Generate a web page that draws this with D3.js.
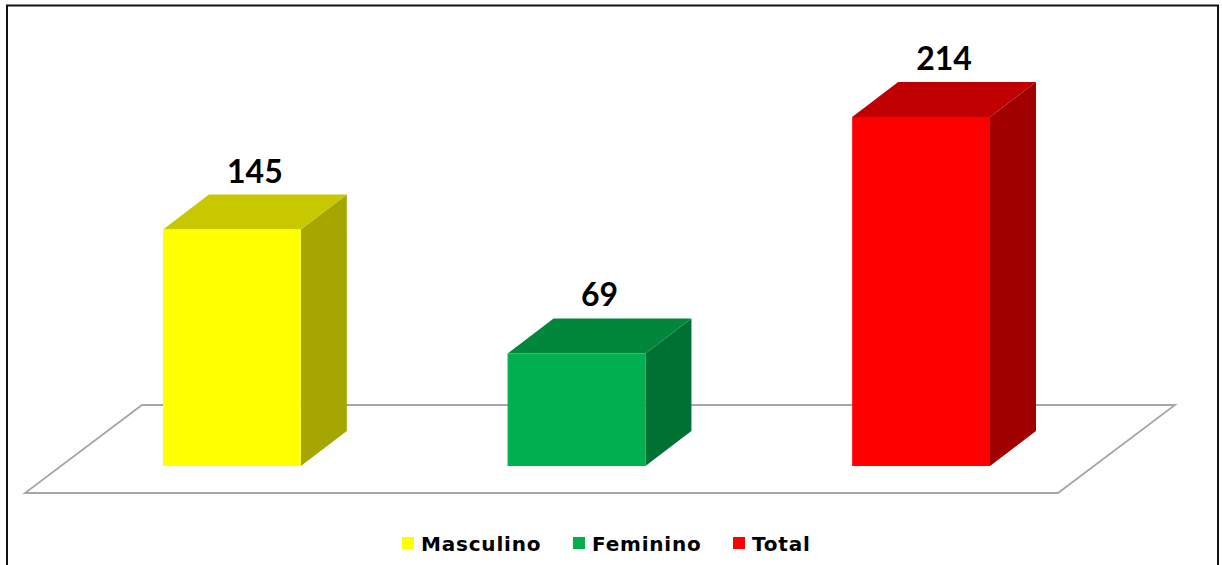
<!DOCTYPE html>
<html>
<head>
<meta charset="utf-8">
<script src="https://cdn.jsdelivr.net/npm/d3@7"></script>
<style>
  html, body { margin: 0; padding: 0; background: #fff; }
  svg { display: block; }
  text { font-family: Lato, "Open Sans", sans-serif; font-weight: 700; fill: #000; }
  .legend text { font-family: "DejaVu Sans", sans-serif; letter-spacing: 0.8px; }
</style>
</head>
<body>
<svg id="chart" width="1222" height="565"></svg>
<script>
// Data
const categories = ["Masculino", "Feminino", "Total"];
const values = [145, 69, 214];
const frontColors = ["#FFFF00", "#00B050", "#FF0000"];
const topColors = ["#C8C800", "#00873C", "#C00000"];
const sideColors = ["#A6A600", "#007033", "#A00000"];

const svg = d3.select("#chart");
const W = 1222, H = 565;

// Outer frame
svg.append("rect")
  .attr("x", 7).attr("y", 5.5)
  .attr("width", 1211).attr("height", H + 10)
  .attr("fill", "#fff")
  .attr("stroke", "#111").attr("stroke-width", 2);

// Scales
const baseY = 466;
const x = d3.scaleBand().domain(categories).range([163, 990]).paddingInner(0.6).paddingOuter(0);
const y = d3.scaleLinear().domain([0, 214]).range([baseY, 117]);

// 3D projection offsets
const barDx = 46, barDy = -35;     // bar depth
const floorDx = 117, floorDy = -88; // floor depth

// Floor (parallelogram)
const floorFrontY = 493;
const floorLeft = 25, floorRight = 1058;
const floorPts = [
  [floorLeft, floorFrontY],
  [floorRight, floorFrontY],
  [floorRight + floorDx, floorFrontY + floorDy],
  [floorLeft + floorDx, floorFrontY + floorDy]
];
svg.append("polygon")
  .attr("points", floorPts.map(p => p.join(",")).join(" "))
  .attr("fill", "#fff")
  .attr("stroke", "#A6A6A6")
  .attr("stroke-width", 1.8)
  .attr("stroke-linejoin", "miter");

// Bars
const bars = svg.append("g").selectAll("g")
  .data(categories.map((c, i) => ({ c, v: values[i], i })))
  .join("g");

bars.each(function(d) {
  const g = d3.select(this);
  const x0 = x(d.c), x1 = x0 + x.bandwidth();
  const yT = y(d.v), yB = y(0);
  // side face
  g.append("polygon")
    .attr("points", [[x1, yB], [x1 + barDx, yB + barDy], [x1 + barDx, yT + barDy], [x1, yT]].map(p => p.join(",")).join(" "))
    .attr("fill", sideColors[d.i]);
  // top face
  g.append("polygon")
    .attr("points", [[x0, yT], [x1, yT], [x1 + barDx, yT + barDy], [x0 + barDx, yT + barDy]].map(p => p.join(",")).join(" "))
    .attr("fill", topColors[d.i]);
  // front face
  g.append("rect")
    .attr("x", x0).attr("y", yT)
    .attr("width", x.bandwidth()).attr("height", yB - yT)
    .attr("fill", frontColors[d.i]);
  // value label
  g.append("text")
    .attr("x", x0 + (x.bandwidth() + barDx) / 2)
    .attr("y", yT + barDy - 12)
    .attr("text-anchor", "middle")
    .attr("font-size", 32)
    .text(d.v);
});

// Legend
const legendX = [402, 573, 733];
const legend = svg.append("g").attr("class", "legend");
categories.forEach((c, i) => {
  legend.append("rect")
    .attr("x", legendX[i]).attr("y", 537)
    .attr("width", 12).attr("height", 12)
    .attr("fill", frontColors[i]);
  legend.append("text")
    .attr("x", legendX[i] + 19).attr("y", 551)
    .attr("font-size", 20)
    .text(c);
});
</script>
</body>
</html>
